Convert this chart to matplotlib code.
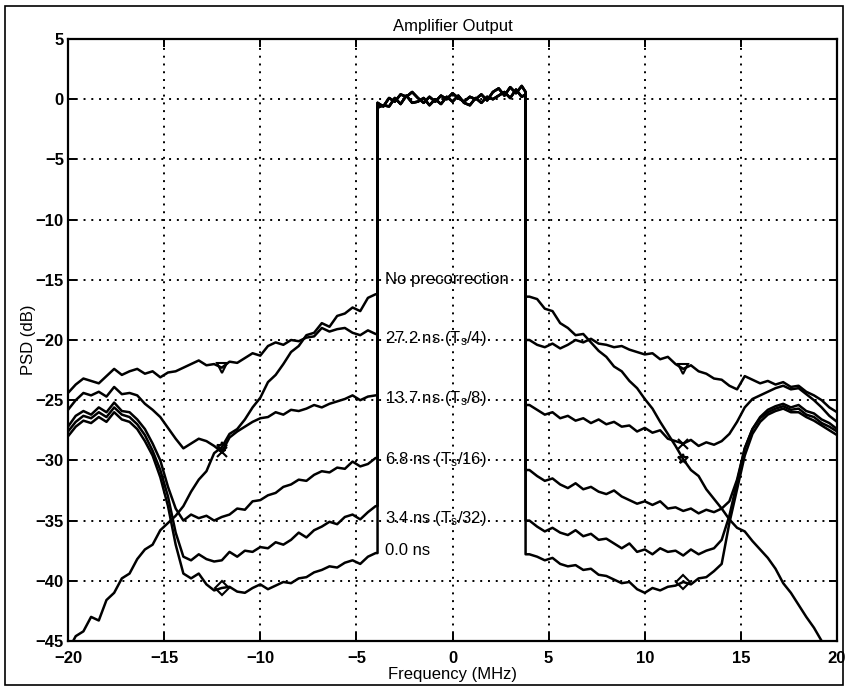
import numpy as np
import matplotlib
matplotlib.use("Agg")
import matplotlib.pyplot as plt
from matplotlib.patches import Rectangle

plt.rcParams['font.family'] = ['Liberation Sans', 'DejaVu Sans']
plt.rcParams['mathtext.default'] = 'regular'

# frequency grids (MHz)
x_left = np.arange(41) * 0.4 - 20.0
x_right = np.arange(41) * 0.4 + 4.0
x_band = [-3.9, -3.6, -3.3, -3.0, -2.7, -2.4, -2.1, -1.8, -1.5, -1.2, -0.9, -0.6, -0.3,
          0.0, 0.3, 0.6, 0.9, 1.2, 1.5, 1.8, 2.1, 2.4, 2.7, 3.0, 3.3, 3.6, 3.8]

# in-band PSD (dB), two overlapping traces
band_a = [-0.3, -0.6, 0.1, -0.2, 0.4, 0.2, 0.6, 0.1, -0.3, 0.2, -0.2, 0.3, 0.0, 0.5,
          0.1, -0.2, 0.2, 0.0, 0.4, -0.1, 0.6, 0.9, 0.3, 1.0, 0.5, 1.1, 0.6]
band_b = [-0.7, -0.5, -0.6, 0.1, -0.4, 0.3, -0.3, -0.2, 0.1, -0.5, 0.0, -0.4, 0.2,
          -0.2, 0.3, -0.3, -0.5, 0.1, -0.3, 0.2, 0.0, 0.3, 0.6, 0.1, 0.8, 0.2, 0.4]

# out-of-band PSD (dB), left side (-20..-4) and right side (4..20)
np_l = [-45.8, -44.6, -44.2, -43.0, -43.3, -41.6, -41.0, -39.8, -39.4, -38.2, -37.4,
        -37.0, -35.8, -35.2, -34.6, -33.8, -32.6, -31.6, -30.9, -29.4, -28.9, -27.8,
        -27.4, -26.6, -25.6, -24.8, -23.5, -22.9, -22.0, -21.0, -20.5, -19.6, -19.4,
        -18.6, -18.9, -18.0, -17.8, -17.3, -17.6, -16.5, -16.2]
np_r = [-16.4, -16.6, -17.4, -17.6, -18.6, -19.0, -19.6, -19.5, -20.2, -20.9, -21.4,
        -22.2, -22.6, -23.4, -24.0, -24.9, -25.7, -26.8, -27.8, -28.8, -29.9, -30.8,
        -31.3, -32.4, -33.2, -34.0, -34.9, -35.6, -35.9, -36.7, -37.4, -38.1, -39.0,
        -40.2, -41.0, -42.0, -43.0, -43.9, -45.0, -46.0, -47.0]

t4_l = [-24.4, -23.7, -23.2, -23.4, -23.6, -23.0, -22.4, -22.9, -22.6, -22.4, -22.8,
        -22.6, -23.1, -22.7, -22.6, -22.3, -22.0, -21.7, -22.1, -22.0, -22.3, -21.8,
        -21.9, -21.5, -21.1, -21.3, -20.5, -20.2, -20.4, -20.0, -20.1, -19.8, -19.7,
        -19.0, -19.3, -19.1, -19.0, -19.4, -19.6, -19.2, -19.5]
t4_r = [-20.0, -20.4, -20.6, -20.3, -20.7, -20.4, -20.0, -20.2, -19.9, -20.3, -20.4,
        -20.6, -20.5, -20.8, -21.0, -21.2, -21.1, -21.6, -21.4, -22.0, -22.4, -22.1,
        -22.6, -22.8, -23.2, -23.3, -23.8, -24.1, -23.0, -23.3, -23.6, -23.4, -23.7,
        -23.5, -23.9, -23.8, -24.3, -24.6, -25.0, -25.6, -26.0]

t8_l = [-25.8, -25.0, -24.4, -24.6, -24.3, -24.7, -23.9, -24.5, -24.4, -24.6, -25.3,
        -25.8, -26.4, -27.3, -28.2, -29.0, -28.6, -28.2, -28.4, -28.8, -29.3, -28.1,
        -27.6, -27.2, -26.8, -26.5, -26.4, -26.0, -26.2, -25.8, -25.9, -25.7, -25.4,
        -25.6, -25.3, -25.1, -24.9, -24.6, -25.0, -24.7, -24.6]
t8_r = [-25.4, -25.8, -26.2, -26.0, -26.5, -26.3, -26.7, -26.5, -26.9, -26.6, -27.0,
        -26.8, -27.2, -27.1, -27.6, -27.3, -27.7, -27.5, -28.2, -28.4, -28.6, -28.3,
        -28.8, -28.5, -28.7, -28.4, -27.8, -26.8, -25.6, -24.9, -24.6, -24.3, -24.0,
        -23.8, -24.1, -24.0, -24.5, -25.0, -25.6, -26.3, -26.8]

t16_l = [-27.2, -26.3, -25.9, -26.2, -25.6, -26.0, -25.2, -25.9, -26.0, -26.6, -27.4,
         -28.6, -30.0, -32.2, -34.0, -35.0, -34.5, -34.8, -34.6, -35.0, -34.7, -34.5,
         -34.0, -34.1, -33.4, -33.3, -32.9, -32.7, -32.2, -32.0, -31.6, -31.7, -31.2,
         -30.9, -31.0, -30.6, -30.7, -30.1, -30.5, -30.3, -29.8]
t16_r = [-30.8, -31.3, -31.7, -31.5, -32.0, -32.3, -31.9, -32.4, -32.2, -32.6, -32.8,
         -32.5, -33.0, -33.3, -33.6, -33.4, -33.7, -33.4, -34.0, -33.9, -34.2, -34.0,
         -34.4, -34.1, -34.3, -34.0, -33.4, -31.6, -29.0, -27.4, -26.4, -25.8, -25.5,
         -25.3, -25.6, -25.4, -25.9, -26.1, -26.6, -26.9, -27.4]

t32_l = [-27.6, -26.8, -26.3, -26.5, -26.0, -26.4, -25.6, -26.2, -26.4, -27.0, -27.9,
         -29.2, -30.8, -33.0, -36.0, -38.0, -38.3, -37.8, -38.2, -38.4, -38.3, -37.6,
         -38.0, -37.5, -37.6, -37.2, -37.3, -36.8, -37.0, -36.6, -36.0, -36.4, -35.8,
         -35.5, -35.1, -35.3, -34.7, -34.5, -34.9, -34.3, -33.8]
t32_r = [-35.0, -35.5, -35.9, -35.6, -36.0, -36.2, -35.8, -36.3, -36.1, -36.6, -36.5,
         -36.9, -37.3, -36.9, -37.6, -37.4, -37.8, -37.3, -37.6, -37.5, -37.9, -37.4,
         -37.8, -37.5, -37.3, -36.6, -34.6, -31.8, -29.0, -27.4, -26.5, -26.0, -25.7,
         -25.5, -25.8, -25.7, -26.2, -26.4, -26.9, -27.2, -27.6]

t0_l = [-28.0, -27.2, -26.7, -26.9, -26.4, -26.8, -26.0, -26.6, -26.8, -27.4, -28.4,
        -29.6, -31.4, -33.8, -37.0, -39.4, -39.8, -39.4, -40.3, -40.8, -40.6, -40.5,
        -40.9, -41.0, -40.6, -40.3, -40.7, -40.4, -40.1, -40.2, -39.8, -39.7, -39.3,
        -39.1, -38.8, -38.9, -38.5, -38.3, -38.6, -38.0, -37.7]
t0_r = [-37.8, -38.0, -38.3, -38.1, -38.6, -38.8, -38.7, -39.1, -39.0, -39.5, -39.6,
        -39.9, -40.2, -40.1, -40.7, -41.0, -40.6, -40.8, -40.5, -40.4, -40.1, -40.3,
        -39.8, -39.7, -39.2, -38.6, -35.2, -32.4, -29.6, -27.8, -26.8, -26.2, -25.9,
        -25.7, -26.0, -26.0, -26.4, -26.7, -27.1, -27.5, -27.9]

labels = ['No precorrection', r'27.2 ns (T$_s$/4)', r'13.7 ns (T$_s$/8)',
          r'6.8 ns (T$_s$/16)', r'3.4 ns (T$_s$/32)', '0.0 ns']
label_y = [-15.0, -19.9, -24.9, -29.9, -34.8, -37.5]

curves = [(np_l, np_r, band_a, '*'), (t4_l, t4_r, band_b, 'v'),
          (t8_l, t8_r, band_a, 'x'), (t16_l, t16_r, band_b, None),
          (t32_l, t32_r, band_a, None), (t0_l, t0_r, band_b, 'D')]

fig = plt.figure(figsize=(8.46, 6.87), dpi=100)
ax = fig.add_axes([0.0804, 0.067, 0.909, 0.8762])

for yl, yr, band, mk in curves:
    xs = np.concatenate([x_left, [-3.9], x_band, [3.8], x_right])
    ys = np.concatenate([yl, [yl[-1]], band, [yr[0]], yr])
    ax.plot(xs, ys, color='black', lw=1.8)
    if mk is not None:
        # marker at +/-12 MHz on the trace
        ax.plot([x_left[20], x_right[20]], [yl[20], yr[20]], linestyle='none',
                marker=mk, ms=7, mfc='none', mec='black', mew=1.5)

for txt, yy in zip(labels, label_y):
    ax.text(-3.5, yy, txt, fontsize=12, va='center', ha='left')

ax.set_xlim(-20, 20)
ax.set_ylim(-45, 5)
ax.set_xticks(np.arange(-20, 21, 5))
ax.set_yticks(np.arange(-45, 6, 5))
ax.grid(True, linestyle=(0, (1, 3)), color='black', lw=1.4)
ax.tick_params(direction='in', length=6, width=1.4, labelsize=12, top=True, right=True,
               labeltop=False, labelright=False)
ax.tick_params(axis='x', pad=7)
ax.tick_params(axis='y', pad=3)
for lab in ax.get_xticklabels() + ax.get_yticklabels():
    lab.set_fontweight('bold')
for s in ax.spines.values():
    s.set_linewidth(1.6)

ax.set_title('Amplifier Output', fontsize=12, pad=6)
ax.set_xlabel('Frequency (MHz)', fontsize=12, labelpad=1)
ax.set_ylabel('PSD (dB)', fontsize=12, labelpad=0)

fig.patches.append(Rectangle((0.006, 0.003), 0.990, 0.988, transform=fig.transFigure,
                             fill=False, ec='black', lw=1.2))

fig.savefig('out.png', dpi=100)
